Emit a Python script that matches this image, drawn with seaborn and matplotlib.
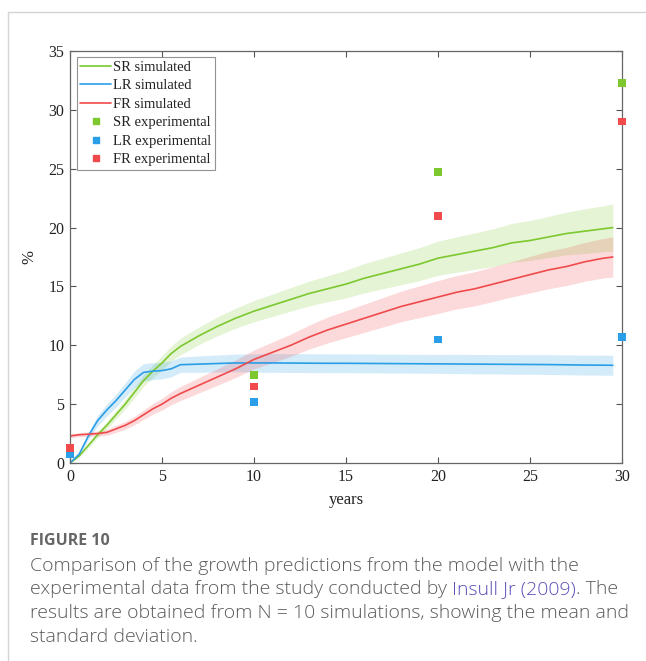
import numpy as np
import pandas as pd
import matplotlib
matplotlib.use("Agg")
import matplotlib.pyplot as plt
from matplotlib.lines import Line2D
import seaborn as sns

# ---------------- data ----------------
times = [0, 0.5, 1, 1.5, 2, 2.5, 3, 3.5, 4, 4.5, 5, 5.5, 6, 7, 8, 9, 10, 11, 12,
         13, 14, 15, 16, 17, 18, 19, 20, 21, 22, 23, 24, 25, 26, 27, 28, 29, 29.5]

sr_mean = [0, 0.6, 1.5, 2.4, 3.2, 4.1, 5.0, 6.0, 7.0, 7.8, 8.5, 9.3, 9.9, 10.8, 11.6,
           12.3, 12.9, 13.4, 13.9, 14.4, 14.8, 15.2, 15.7, 16.1, 16.5, 16.9, 17.4,
           17.7, 18.0, 18.3, 18.7, 18.9, 19.2, 19.5, 19.7, 19.9, 20.0]
sr_std = [0, 0.1, 0.2, 0.25, 0.3, 0.35, 0.4, 0.45, 0.5, 0.55, 0.6, 0.65, 0.7, 0.75,
          0.8, 0.85, 0.9, 0.95, 1.0, 1.05, 1.1, 1.18, 1.25, 1.3, 1.35, 1.4, 1.45,
          1.5, 1.55, 1.6, 1.65, 1.7, 1.75, 1.82, 1.9, 1.95, 2.0]

lr_mean = [0, 0.75, 2.3, 3.6, 4.5, 5.3, 6.2, 7.1, 7.7, 7.8, 7.85, 8.0, 8.35, 8.4,
           8.45, 8.5, 8.5, 8.5, 8.49, 8.48, 8.47, 8.47, 8.46, 8.45, 8.44, 8.43, 8.42,
           8.41, 8.4, 8.39, 8.38, 8.37, 8.36, 8.34, 8.32, 8.31, 8.3]
lr_std = [0, 0.15, 0.3, 0.45, 0.5, 0.55, 0.6, 0.7, 0.75, 0.72, 0.7, 0.68, 0.65, 0.7,
          0.72, 0.75, 0.78, 0.8, 0.8, 0.8, 0.8, 0.8, 0.8, 0.8, 0.8, 0.8, 0.8,
          0.82, 0.82, 0.82, 0.83, 0.83, 0.84, 0.84, 0.85, 0.85, 0.85]

fr_mean = [2.3, 2.4, 2.45, 2.5, 2.6, 2.9, 3.2, 3.6, 4.1, 4.6, 5.0, 5.5, 5.9, 6.6, 7.3,
           8.0, 8.8, 9.4, 10.0, 10.7, 11.3, 11.8, 12.3, 12.8, 13.3, 13.7, 14.1, 14.5,
           14.8, 15.2, 15.6, 16.0, 16.4, 16.7, 17.1, 17.4, 17.5]
fr_std = [0.15, 0.17, 0.2, 0.22, 0.25, 0.3, 0.33, 0.36, 0.4, 0.45, 0.5, 0.55, 0.6, 0.65,
          0.7, 0.75, 0.8, 0.88, 0.95, 1.02, 1.1, 1.15, 1.2, 1.25, 1.3, 1.35, 1.4,
          1.42, 1.45, 1.48, 1.5, 1.55, 1.6, 1.62, 1.65, 1.68, 1.7]

exp_years = [0, 10, 20, 30]
sr_exp = [np.nan, 7.5, 24.7, 32.3]
lr_exp = [0.75, 5.2, 10.5, 10.7]
fr_exp = [1.3, 6.5, 21.0, 29.0]

x_ticks = [0, 5, 10, 15, 20, 25, 30]
y_ticks = [0, 5, 10, 15, 20, 25, 30, 35]

caption_head = "FIGURE 10"
caption_lines = [
    ["Comparison of the growth predictions from the model with the"],
    ["experimental data from the study conducted by ", "Insull Jr (2009)", ". The"],
    ["results are obtained from N = 10 simulations, showing the mean and"],
    ["standard deviation."],
]

# ---------------- style ----------------
GREEN = "#7cc82e"
BLUE = "#2a9ee6"
RED = "#f04a4c"

sns.set_theme(style="white")
plt.rcParams["font.family"] = ["Liberation Serif", "DejaVu Serif"]

W, H = 646, 661
fig = plt.figure(figsize=(W / 100, H / 100), dpi=100)
fig.patch.set_facecolor("white")
ax = fig.add_axes([70 / W, 1 - 463 / H, (622 - 70) / W, (463 - 51) / H])

sim = pd.DataFrame({
    "t": times * 3,
    "mean": sr_mean + lr_mean + fr_mean,
    "std": sr_std + lr_std + fr_std,
    "series": ["SR simulated"] * len(times) + ["LR simulated"] * len(times) + ["FR simulated"] * len(times),
})
exp = pd.DataFrame({
    "t": exp_years * 3,
    "v": sr_exp + lr_exp + fr_exp,
    "series": ["SR experimental"] * 4 + ["LR experimental"] * 4 + ["FR experimental"] * 4,
}).dropna()

sim_pal = {"SR simulated": GREEN, "LR simulated": BLUE, "FR simulated": RED}
exp_pal = {"SR experimental": GREEN, "LR experimental": BLUE, "FR experimental": RED}

for name, col in sim_pal.items():
    d = sim[sim.series == name]
    ax.fill_between(d["t"], d["mean"] - d["std"], d["mean"] + d["std"],
                    color=col, alpha=0.2, linewidth=0)

sns.lineplot(data=sim, x="t", y="mean", hue="series", palette=sim_pal,
             hue_order=list(sim_pal), linewidth=1.2, ax=ax, legend=False, sort=False)
sns.scatterplot(data=exp, x="t", y="v", hue="series", palette=exp_pal,
                hue_order=list(exp_pal), marker="s", s=30, linewidth=0,
                ax=ax, legend=False, clip_on=False, zorder=5)

ax.set_xlim(0, 30)
ax.set_ylim(0, 35)
ax.set_xticks(x_ticks)
ax.set_yticks(y_ticks)
ax.set_xticklabels([str(v) for v in x_ticks])
ax.set_yticklabels([str(v) for v in y_ticks])
ax.tick_params(direction="in", length=4, width=0.8, color="#555555",
               labelsize=11.5, labelcolor="#222222", top=True, right=True,
               bottom=True, left=True, pad=4)
for sp in ax.spines.values():
    sp.set_color("#666666")
    sp.set_linewidth(0.9)
ax.set_xlabel("years", fontsize=12, color="#222222", labelpad=5)
ax.set_ylabel("%", fontsize=12, color="#222222", labelpad=8)

handles = [Line2D([], [], color=GREEN, lw=1.2, label="SR simulated"),
           Line2D([], [], color=BLUE, lw=1.2, label="LR simulated"),
           Line2D([], [], color=RED, lw=1.2, label="FR simulated"),
           Line2D([], [], color=GREEN, lw=0, marker="s", markersize=4.5, label="SR experimental"),
           Line2D([], [], color=BLUE, lw=0, marker="s", markersize=4.5, label="LR experimental"),
           Line2D([], [], color=RED, lw=0, marker="s", markersize=4.5, label="FR experimental")]
leg = ax.legend(handles=handles, loc="upper left", bbox_to_anchor=(0.012, 0.985),
                fontsize=10.5, frameon=True, fancybox=False, borderpad=0.25,
                labelspacing=0.36, handlelength=2.1, handletextpad=0.12,
                borderaxespad=0.0)
leg.get_frame().set_edgecolor("#777777")
leg.get_frame().set_linewidth(0.8)
for t in leg.get_texts():
    t.set_color("#222222")

# page border lines
fig.add_artist(Line2D([8 / W, 1], [1 - 12 / H, 1 - 12 / H], color="#d4d4d4", lw=1,
                      transform=fig.transFigure))
fig.add_artist(Line2D([8 / W, 8 / W], [0, 1 - 12 / H], color="#d4d4d4", lw=1,
                      transform=fig.transFigure))

# caption
cap_font = ["Open Sans", "DejaVu Sans"]
fig.text(30 / W, 1 - 541 / H, caption_head, fontsize=11.5, fontweight="bold",
         color="#666666", family=cap_font, va="center")
fig.canvas.draw()
renderer = fig.canvas.get_renderer()
y0 = 566
for i, parts in enumerate(caption_lines):
    x = 30
    for j, p in enumerate(parts):
        col = "#5a4fb8" if p.startswith("Insull") else "#5a5a5a"
        t = fig.text(x / W, 1 - (y0 + i * 23.5) / H, p, fontsize=14,
                     color=col, family=cap_font, va="center", fontweight="light")
        bb = t.get_window_extent(renderer=renderer)
        x += bb.width

fig.savefig("out.png", dpi=100, facecolor="white")
